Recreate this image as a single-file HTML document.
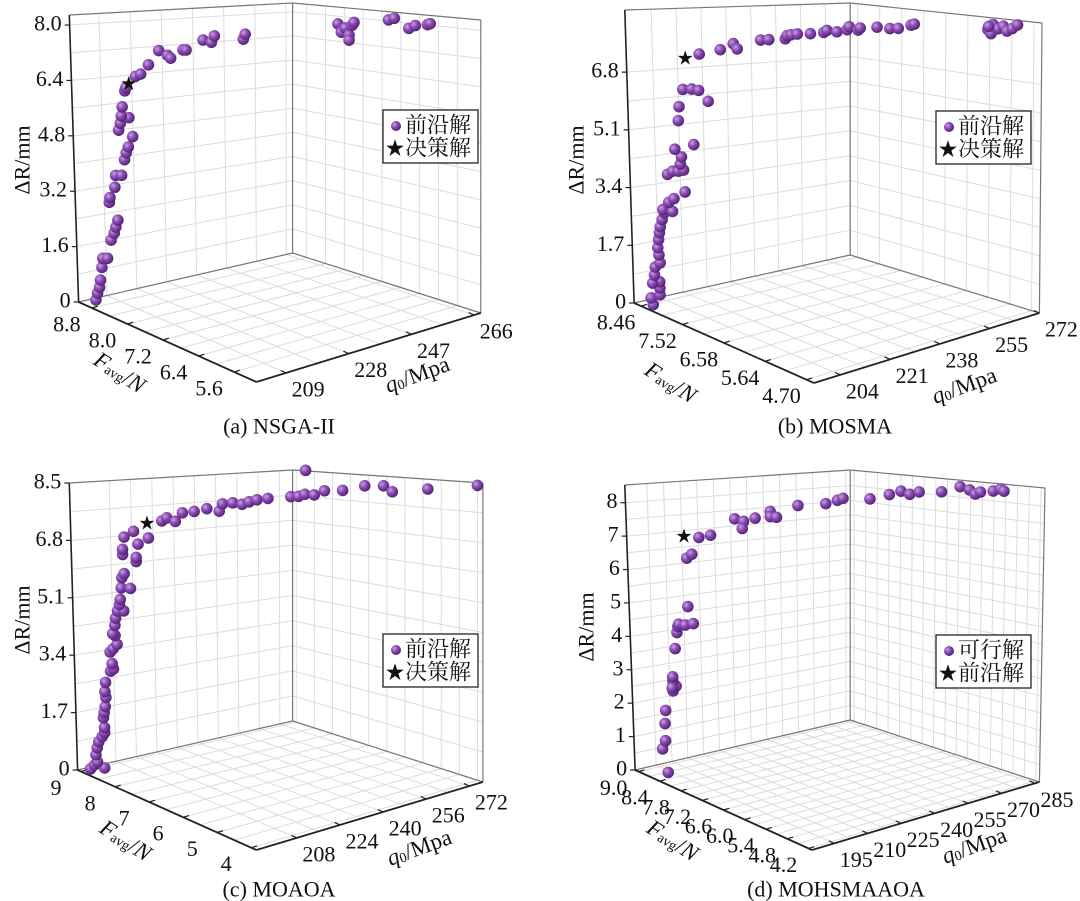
<!DOCTYPE html>
<html><head><meta charset="utf-8">
<style>
body{margin:0;background:#fff}
svg{display:block;font-family:"Liberation Serif","Noto Serif CJK SC",serif}
</style></head>
<body>
<svg id="chart" xmlns="http://www.w3.org/2000/svg" width="1080" height="901" viewBox="0 0 1080 901">
<defs>
<radialGradient id="ball" cx="0.35" cy="0.35" r="0.7">
<stop offset="0" stop-color="#c9a3e0"/><stop offset="0.45" stop-color="#8a4bb3"/><stop offset="1" stop-color="#4e1f70"/>
</radialGradient>
</defs>
<g id="root"></g>
</svg>
<script>
// ---- data: panel (a) NSGA-II ----
const aQ0=[203,203.3,203.7,203.9,204.2,204.4,205.2,205.9,206.5,206.8,207.2,205.8,205.9,206.8,207,208,208.6,208.9,209.3,210,207.7,208,209.4,208.2,208.4,208.9,209.1,210.7,211.6,212.9,214.7,216.1,216.6,218.7,219.2,222,223.4,223.9,228.7,229,244.4,245,245.6,246.2,246.2,246.7,247,252.8,253.7,256.1,257.2,259.2,259.6];
const aF=[8.92,8.9,8.88,8.87,8.85,8.84,8.79,8.75,8.72,8.7,8.68,8.76,8.75,8.7,8.69,8.63,8.6,8.58,8.56,8.51,8.65,8.63,8.54,8.62,8.61,8.58,8.57,8.47,8.42,8.34,8.24,8.15,8.12,8.0,7.97,7.8,7.72,7.69,7.41,7.39,6.49,6.46,6.42,6.38,6.38,6.35,6.33,6.0,5.94,5.8,5.74,5.62,5.59];
const aDR=[0.1,0.3,0.47,0.68,1.05,1.31,1.32,1.85,2.05,2.23,2.43,2.93,3.07,3.37,3.71,3.72,4.17,4.37,4.54,4.84,5.01,5.21,5.38,5.42,5.68,6.14,6.23,6.56,6.63,6.9,7.31,7.18,7.1,7.34,7.34,7.63,7.57,7.75,7.67,7.81,8.13,7.9,8.02,7.82,7.68,8.1,8.18,8.26,8.31,8.03,8.11,8.14,8.17];
const aStar=[209.6,8.54,6.35];
// ---- data: panel (b) MOSMA ----
const bQ0=[198.7,198.3,200.1,200.1,200.1,198.7,199.1,199.3,200.3,200.1,199.9,200.1,200.3,200.5,200.9,201.3,201.1,202.9,202.3,203.2,205.4,202.1,203.1,204.2,205.2,204.6,204.9,203.6,207.2,204.4,204.6,210.1,205.4,207,208.3,208.6,212.5,214.9,215.6,220,221.5,224.6,224.9,225.6,226.8,229.2,231.7,232.3,234.1,236,236.4,238,238.4,241.6,243.9,245.5,247.8,248.4,262,262.6,263,263.9,264.9,265.5,266.5,267.5,262.1];
const bF=[8.42,8.44,8.35,8.35,8.35,8.42,8.4,8.39,8.34,8.35,8.36,8.35,8.34,8.33,8.31,8.28,8.3,8.2,8.24,8.18,8.07,8.24,8.19,8.13,8.08,8.11,8.1,8.16,7.97,8.12,8.11,7.82,8.07,7.98,7.91,7.9,7.69,7.56,7.52,7.29,7.21,7.05,7.03,6.99,6.93,6.8,6.67,6.64,6.54,6.44,6.42,6.33,6.31,6.15,6.02,5.94,5.81,5.78,5.06,5.03,5.01,4.96,4.91,4.87,4.82,4.77,5.05];
const bDR=[0,0.19,0.3,0.5,0.68,0.63,0.87,1.11,1.24,1.47,1.68,1.92,2.12,2.3,2.51,2.72,2.81,2.77,3.03,3.15,3.36,3.85,3.95,3.96,4.0,4.17,4.38,4.6,4.76,5.44,5.85,6.04,6.36,6.38,6.35,7.41,7.56,7.75,7.6,7.88,7.9,7.94,8.03,8.06,8.09,8.11,8.16,8.22,8.19,8.26,8.35,8.26,8.32,8.36,8.33,8.34,8.45,8.48,8.39,8.27,8.54,8.42,8.5,8.36,8.44,8.55,8.48];
const bStar=[206,8.04,7.28];
// ---- data: panel (c) MOAOA ----
const cQ0=[195.8,196.6,198.8,197.3,197,197.3,197.7,198.4,199,199,198.8,199,199.2,199.4,199.2,199.4,200.5,201.1,200.9,200.5,201.1,202,201.6,201.1,201.6,201.8,202.2,203.5,202.7,202.9,203.1,205,203.3,203.8,206.3,206.3,203.5,203.5,206.7,203.9,205.9,208.9,211.6,212.7,214.4,215.9,218.3,220.9,223.4,224.1,226.2,228.1,229.5,231.1,233.3,238,239.5,240.8,242.7,244.8,248.5,253,256.8,258.6,265.8,275.9,241];
const cF=[8.93,8.87,8.74,8.83,8.85,8.83,8.81,8.76,8.73,8.73,8.74,8.73,8.71,8.7,8.71,8.7,8.63,8.59,8.61,8.63,8.59,8.54,8.56,8.59,8.56,8.55,8.52,8.44,8.5,8.49,8.47,8.35,8.46,8.43,8.27,8.27,8.44,8.44,8.24,8.42,8.3,8.11,7.93,7.87,7.76,7.67,7.52,7.36,7.2,7.16,7.03,6.91,6.82,6.72,6.58,6.29,6.19,6.11,5.99,5.86,5.63,5.35,5.11,5.0,4.55,3.92,6.1];
const cDR=[0.06,0.19,0.12,0.28,0.49,0.7,0.88,1.04,1.16,1.31,1.6,1.75,1.93,2.2,2.37,2.64,2.98,3.05,3.2,3.54,3.64,3.77,4.03,4.08,4.33,4.54,4.75,4.76,4.94,5.09,5.43,5.42,5.73,5.85,6.21,6.33,6.41,6.56,6.72,6.92,7.09,6.9,7.4,7.49,7.39,7.64,7.68,7.76,7.69,7.9,7.93,7.89,7.96,8.02,8.06,8.11,8.12,8.18,8.16,8.28,8.29,8.42,8.42,8.25,8.33,8.43,8.86];
const cStar=[208.6,8.12,7.34];
// ---- data: panel (d) MOHSMAAOA ----
const dQ0=[193.6,192.3,193.1,193.1,193.4,195.4,196.2,195.4,195.2,195.4,196.2,196.7,197,197.2,198.9,200.9,199.6,199.6,200.9,202.7,205.6,211.6,213.7,213.4,216.5,220.2,220.2,221.8,227,233.8,236.6,237.9,244.5,249.2,252,254.2,256.5,261.9,266.4,268.7,270.1,271.4,274.5,276.3,277.1];
const dF=[8.68,8.74,8.7,8.7,8.69,8.59,8.55,8.59,8.6,8.59,8.55,8.52,8.51,8.5,8.42,8.32,8.38,8.38,8.32,8.23,8.09,7.8,7.69,7.71,7.55,7.37,7.37,7.3,7.04,6.71,6.57,6.5,6.18,5.95,5.81,5.71,5.6,5.33,5.11,5.0,4.93,4.87,4.72,4.63,4.59];
const dDR=[0,0.69,0.94,1.45,1.84,2.43,2.58,2.73,2.52,2.85,3.69,4.17,4.35,4.42,4.4,4.45,4.95,6.38,6.5,7.0,7.07,7.56,7.49,7.28,7.59,7.79,7.64,7.62,7.97,8.03,8.13,8.19,8.18,8.31,8.41,8.32,8.39,8.4,8.55,8.46,8.34,8.4,8.43,8.49,8.43];
const dStar=[199.1,8.41,7.04];
// ---- tick labels ----
const aZTicks=[0,1.6,3.2,4.8,6.4,8.0], aZLabels=["0","1.6","3.2","4.8","6.4","8.0"];
const aFTicks=[8.8,8.0,7.2,6.4,5.6], aFLabels=["8.8","8.0","7.2","6.4","5.6"];
const aQTicks=[209,228,247,266];
const bZTicks=[0,1.7,3.4,5.1,6.8], bZLabels=["0","1.7","3.4","5.1","6.8"];
const bFTicks=[8.46,7.52,6.58,5.64,4.70], bFLabels=["8.46","7.52","6.58","5.64","4.70"];
const bQTicks=[204,221,238,255,272];
const cZTicks=[0,1.7,3.4,5.1,6.8,8.5], cZLabels=["0","1.7","3.4","5.1","6.8","8.5"];
const cFTicks=[9,8,7,6,5,4], cFLabels=["9","8","7","6","5","4"];
const cQTicks=[208,224,240,256,272];
const dZTicks=[0,1,2,3,4,5,6,7,8], dZLabels=["0","1","2","3","4","5","6","7","8"];
const dFTicks=[9.0,8.4,7.8,7.2,6.6,6.0,5.4,4.8,4.2], dFLabels=["9.0","8.4","7.8","7.2","6.6","6.0","5.4","4.8","4.2"];
const dQTicks=[195,210,225,240,255,270,285];

const NS="http://www.w3.org/2000/svg";
const root=document.getElementById('root');
function mk(tag,attrs,parent){const e=document.createElementNS(NS,tag);for(const k in attrs)e.setAttribute(k,attrs[k]);(parent||root).appendChild(e);return e;}

const panels=[
 {id:'a',title:'(a) NSGA-II',cap:[279,426],L:[78.6,302],Lt:[69.3,15],B:[292.6,253],Bt:[292.6,3],R:[480.8,313],Rt:[480.8,20],F:[256.4,382],
  qr:[200,268],fr:[9.1,5.1],zmax:8.29,Q:aQ0,FV:aF,Z:aDR,star:aStar,zt:aZTicks,zl:aZLabels,ft:aFTicks,fl:aFLabels,qt:aQTicks,
  leg:[383,110],names:['前沿解','决策解'],zt_pos:[22,160],fa:[120,372],qa:[417,374]},
 {id:'b',title:'(b) MOSMA',cap:[835,426],L:[634.1,303],Lt:[624.8,10],B:[850.2,255],Bt:[850.2,3],R:[1039.4,313],Rt:[1042,23],F:[814,383],
  qr:[195,272],fr:[8.62,4.53],zmax:8.63,Q:bQ0,FV:bF,Z:bDR,star:bStar,zt:bZTicks,zl:bZLabels,ft:bFTicks,fl:bFLabels,qt:bQTicks,
  leg:[936,111],names:['前沿解','决策解'],zt_pos:[576,160],fa:[671,382],qa:[964,385]},
 {id:'c',title:'(c) MOAOA',cap:[279,889],L:[77.6,770],Lt:[69.3,483],B:[292.6,721],Bt:[292.6,470],R:[482.9,782],Rt:[482.9,483],F:[256.4,850],
  qr:[193,277],fr:[9.1,3.85],zmax:8.5,Q:cQ0,FV:cF,Z:cDR,star:cStar,zt:cZTicks,zl:cZLabels,ft:cFTicks,fl:cFLabels,qt:cQTicks,
  leg:[383,634],names:['前沿解','决策解'],zt_pos:[22,620],fa:[126,840],qa:[419,847]},
 {id:'d',title:'(d) MOHSMAAOA',cap:[836,889],L:[635.1,770],Lt:[624.8,485],B:[850.2,720],Bt:[850.2,470],R:[1039.4,782],Rt:[1045,488],F:[812,850],
  qr:[185,287],fr:[9.1,4.1],zmax:8.53,Q:dQ0,FV:dF,Z:dDR,star:dStar,zt:dZTicks,zl:dZLabels,ft:dFTicks,fl:dFLabels,qt:dQTicks,
  leg:[936,635],names:['可行解','前沿解'],zt_pos:[586,627],fa:[673,840],qa:[974,845]}
];

function lerp(a,b,u){return [a[0]+(b[0]-a[0])*u,a[1]+(b[1]-a[1])*u];}
function makeProj(P){
  const Ft=[P.Lt[0]+P.Rt[0]-P.Bt[0],P.Lt[1]+P.Rt[1]-P.Bt[1]];
  function bil(A,Bc,Fc,Rc,s,t){return [A[0]*(1-s)*(1-t)+Bc[0]*s*(1-t)+Fc[0]*(1-s)*t+Rc[0]*s*t, A[1]*(1-s)*(1-t)+Bc[1]*s*(1-t)+Fc[1]*(1-s)*t+Rc[1]*s*t];}
  const sx=q=>(q-P.qr[0])/(P.qr[1]-P.qr[0]);
  const tx=f=>(P.fr[0]-f)/(P.fr[0]-P.fr[1]);
  const raw=(s,t,w)=>lerp(bil(P.L,P.B,P.F,P.R,s,t),bil(P.Lt,P.Bt,Ft,P.Rt,s,t),w);
  return {sx,tx,raw,pt:(q,f,z)=>raw(sx(q),tx(f),z/P.zmax)};
}
function line(g,p1,p2,st,w,name){const l=mk('line',{x1:p1[0],y1:p1[1],x2:p2[0],y2:p2[1],stroke:st,'stroke-width':w},g);return l;}
function text(g,x,y,str,size,anchor,name,rot){const t=mk('text',{x:x,y:y,'font-size':size,'text-anchor':anchor||'middle','dominant-baseline':'central',fill:'#111'},g);if(rot!==undefined)t.setAttribute('transform','rotate('+rot+' '+x+' '+y+')');t.textContent=str;return t;}

panels.forEach(P=>{
  const g=mk('g',{});
  
  
  const pr=makeProj(P);
  const grid='#dcdcdc';
  const qs=[];for(let i=0;i<P.qt.length;i++){qs.push(pr.sx(P.qt[i]));if(i<P.qt.length-1)qs.push((pr.sx(P.qt[i])+pr.sx(P.qt[i+1]))/2);}
  const fs=[];for(let i=0;i<P.ft.length;i++){fs.push(pr.tx(P.ft[i]));if(i<P.ft.length-1)fs.push((pr.tx(P.ft[i])+pr.tx(P.ft[i+1]))/2);}
  const zs=[];for(let i=0;i<P.zt.length;i++){zs.push(P.zt[i]/P.zmax);if(i<P.zt.length-1)zs.push((P.zt[i]+P.zt[i+1])/2/P.zmax);}
  qs.forEach(s=>{line(g,pr.raw(s,0,0),pr.raw(s,1,0),grid,1,'floor-grid-q0');line(g,pr.raw(s,0,0),pr.raw(s,0,1),grid,1,'back-wall-grid-q0');});
  fs.forEach(t=>{line(g,pr.raw(0,t,0),pr.raw(1,t,0),grid,1,'floor-grid-f');line(g,pr.raw(1,t,0),pr.raw(1,t,1),grid,1,'side-wall-grid-f');});
  zs.forEach(w=>{line(g,pr.raw(0,0,w),pr.raw(1,0,w),grid,1,'back-wall-grid-z');line(g,pr.raw(1,0,w),pr.raw(1,1,w),grid,1,'side-wall-grid-z');});
  const edge='#777';
  line(g,P.Lt,P.Bt,edge,1.2,'box-edge');line(g,P.Bt,P.Rt,edge,1.2,'box-edge');
  line(g,P.B,P.Bt,edge,1.2,'box-edge');line(g,P.R,P.Rt,edge,1.2,'box-edge');
  line(g,P.L,P.B,edge,1.2,'box-edge');line(g,P.B,P.R,edge,1.2,'box-edge');
  line(g,P.L,P.Lt,'#222',1.6,'z-axis-line');
  line(g,P.L,P.F,'#222',1.8,'f-axis-line');
  line(g,P.F,P.R,'#222',1.8,'q0-axis-line');
  P.zt.forEach((z,i)=>{const p=pr.raw(0,0,z/P.zmax);line(g,p,[p[0]-5,p[1]],'#222',1.2,'z-tick');text(g,p[0]-8,p[1]-2,P.zl[i],22,'end','z-tick-label');});
  const dq=[(P.R[0]-P.F[0]),(P.R[1]-P.F[1])];const dn=Math.hypot(dq[0],dq[1]);
  P.ft.forEach((f,i)=>{const p=pr.raw(0,pr.tx(f),0);line(g,p,[p[0]+dq[0]/dn*6,p[1]+dq[1]/dn*6],'#222',1.2,'f-tick');text(g,p[0]-25,p[1]+16,P.fl[i],22,'middle','f-tick-label');});
  const df=[(P.L[0]-P.F[0]),(P.L[1]-P.F[1])];const fn=Math.hypot(df[0],df[1]);
  P.qt.forEach(q=>{const p=pr.raw(pr.sx(q),1,0);line(g,p,[p[0]+df[0]/fn*6,p[1]+df[1]/fn*6],'#222',1.2,'q0-tick');text(g,p[0]+22,p[1]+16,String(q),22,'middle','q0-tick-label');});
  text(g,P.zt_pos[0],P.zt_pos[1],'ΔR/mm',22,'middle','z-axis-title',-90);
  const fa=mk('text',{x:P.fa[0],y:P.fa[1],'font-size':23,'text-anchor':'middle','dominant-baseline':'central',fill:'#111',transform:'rotate(33 '+P.fa[0]+' '+P.fa[1]+')'},g);
  
  fa.innerHTML='<tspan font-style="italic">F</tspan><tspan font-size="14" dy="5">avg</tspan><tspan dy="-5">/</tspan><tspan font-style="italic">N</tspan>';
  const qa=mk('text',{x:P.qa[0],y:P.qa[1],'font-size':23,'text-anchor':'middle','dominant-baseline':'central',fill:'#111',transform:'rotate(-20 '+P.qa[0]+' '+P.qa[1]+')'},g);
  
  qa.innerHTML='<tspan font-style="italic">q</tspan><tspan font-size="14" dy="5">0</tspan><tspan dy="-5">/Mpa</tspan>';
  for(let i=0;i<P.Q.length;i++){const p=pr.pt(P.Q[i],P.FV[i],P.Z[i]);const c=mk('circle',{cx:p[0],cy:p[1],r:5.8,fill:'url(#ball)'},g);
    
    }
  const sp=pr.pt(P.star[0],P.star[1],P.star[2]);
  text(g,sp[0],sp[1]+1,'★',16,'middle','decision-star');
  const lg=mk('g',{},g);
  mk('rect',{x:P.leg[0],y:P.leg[1],width:95,height:53,fill:'#fff',stroke:'#222','stroke-width':1.3},lg);
  const lc=mk('circle',{cx:P.leg[0]+13,cy:P.leg[1]+16,r:5,fill:'url(#ball)'},lg);
  
  text(lg,P.leg[0]+22,P.leg[1]+15,P.names[0],22,'start','legend-entry');
  text(lg,P.leg[0]+12,P.leg[1]+39,'★',19,'middle','legend-marker-star');
  text(lg,P.leg[0]+22,P.leg[1]+38,P.names[1],22,'start','legend-entry');
  text(g,P.cap[0],P.cap[1],P.title,22,'middle','panel-caption');
});
</script>
</body></html>
